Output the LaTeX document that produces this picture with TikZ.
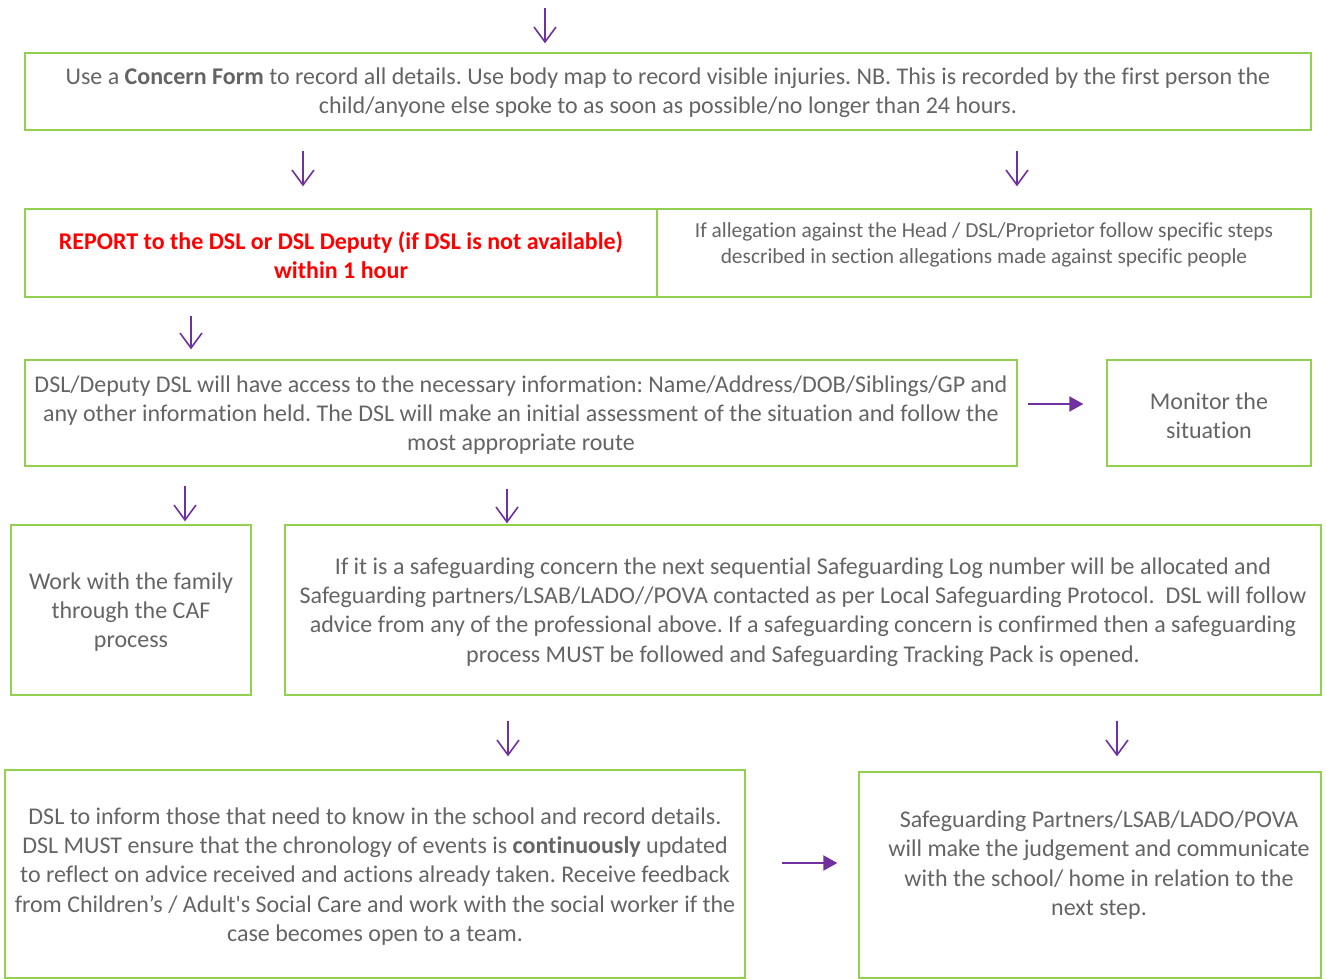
\documentclass[tikz,border=0pt]{standalone}
\usepackage{fontspec}
\setmainfont{Carlito}[Ligatures={NoCommon}]
\usetikzlibrary{arrows.meta}
\definecolor{boxgreen}{RGB}{146,208,80}
\definecolor{arrpurple}{RGB}{112,48,160}
\definecolor{txtgrey}{RGB}{100,100,100}
\definecolor{repred}{RGB}{255,0,0}
\tikzset{
  box/.style={draw=boxgreen, line width=1.3pt, inner sep=0pt},
  txt/.style={text=txtgrey, align=center, inner sep=0pt, font=\fontsize{24}{29.3}\selectfont},
  smalltxt/.style={txt, font=\fontsize{21.4}{26}\selectfont},
  downarr/.style={draw=arrpurple, line width=1.6pt, -{Straight Barb[length=15pt,width=22pt,line width=1.6pt]}},
  sidearr/.style={draw=arrpurple, line width=2pt, -{Triangle[length=14pt,width=15pt]}},
}
\frenchspacing
\begin{document}
\begin{tikzpicture}[x=1pt, y=-1pt]
  \useasboundingbox (0,0) rectangle (1326,979);

  % Boxes
  \node[box, minimum width=1286, minimum height=77] (boxA) at (668,91.5) {};
  \node[box, minimum width=632, minimum height=88] (boxB) at (341,253) {};
  \node[box, minimum width=654, minimum height=88] (boxC) at (984,253) {};
  \node[box, minimum width=992, minimum height=106] (boxD) at (521,413) {};
  \node[box, minimum width=204, minimum height=106] (boxE) at (1209,413) {};
  \node[box, minimum width=240, minimum height=170] (boxF) at (131,610) {};
  \node[box, minimum width=1036, minimum height=170] (boxG) at (803,610) {};
  \node[box, minimum width=740, minimum height=208] (boxH) at (375,874) {};
  \node[box, minimum width=462, minimum height=206] (boxI) at (1090,875) {};

  % Texts
  \node[txt] (txtA) at (668,93) {Use a \textbf{Concern Form} to record all details. Use body map to record visible injuries. NB. This is recorded by the first person the\\
    child/anyone else spoke to as soon as possible/no longer than 24 hours.};
  \node[txt, text=repred, font=\fontsize{24}{29.3}\selectfont\bfseries] (txtB) at (341,255) {REPORT to the DSL or DSL Deputy (if DSL is not available)\\ within 1 hour};
  \node[smalltxt] (txtC) at (984,245) {If allegation against the Head / DSL/Proprietor follow specific steps\\ described in section allegations made against specific people};
  \node[txt] (txtD) at (521,415) {DSL/Deputy DSL will have access to the necessary information: Name/Address/DOB/Siblings/GP and\\
    any other information held. The DSL will make an initial assessment of the situation and follow the\\
    most appropriate route};
  \node[txt] (txtE) at (1209,415.5) {Monitor the\\ situation};
  \node[txt] (txtF) at (131,612) {Work with the family\\ through the CAF\\ process};
  \node[txt] (txtG) at (803,612) {If it is a safeguarding concern the next sequential Safeguarding Log number will be allocated and\\
    Safeguarding partners/LSAB/LADO//POVA contacted as per Local Safeguarding Protocol.\ \ DSL will follow\\
    advice from any of the professional above. If a safeguarding concern is confirmed then a safeguarding\\
    process MUST be followed and Safeguarding Tracking Pack is opened.};
  \node[txt] (txtH) at (375,876.5) {DSL to inform those that need to know in the school and record details.\\
    DSL MUST ensure that the chronology of events is \textbf{continuously} updated\\
    to reflect on advice received and actions already taken. Receive feedback\\
    from Children’s / Adult\textquotesingle s Social Care and work with the social worker if the\\
    case becomes open to a team.};
  \node[txt] (txtI) at (1099,865) {Safeguarding Partners/LSAB/LADO/POVA\\ will make the judgement and communicate\\ with the school/ home in relation to the\\ next step.};

  % Arrows
  \coordinate (start) at (545,8);
  \draw[downarr, shorten >=9pt] (start) -- (start |- boxA.north);
  \draw[downarr, shorten <=20pt, shorten >=22pt] (303,0 |- boxA.south) -- (303,0 |- boxB.north);
  \draw[downarr, shorten <=20pt, shorten >=22pt] (1017,0 |- boxA.south) -- (1017,0 |- boxC.north);
  \draw[downarr, shorten <=18pt, shorten >=10pt] (191,0 |- boxB.south) -- (191,0 |- boxD.north);
  \draw[downarr, shorten <=19pt, shorten >=3pt] (185,0 |- boxD.south) -- (185,0 |- boxF.north);
  \draw[downarr, shorten <=22pt, shorten >=1pt] (507,0 |- boxD.south) -- (507,0 |- boxG.north);
  \draw[downarr, shorten <=25pt, shorten >=13pt] (508,0 |- boxG.south) -- (508,0 |- boxH.north);
  \draw[downarr, shorten <=25pt, shorten >=15pt] (1117,0 |- boxG.south) -- (1117,0 |- boxI.north);
  \draw[sidearr, shorten <=10pt, shorten >=23pt] (boxD.east |- 0,404) -- (boxE.west |- 0,404);
  \draw[sidearr, shorten <=36pt, shorten >=21pt] (boxH.east |- 0,863) -- (boxI.west |- 0,863);
\end{tikzpicture}
\end{document}
